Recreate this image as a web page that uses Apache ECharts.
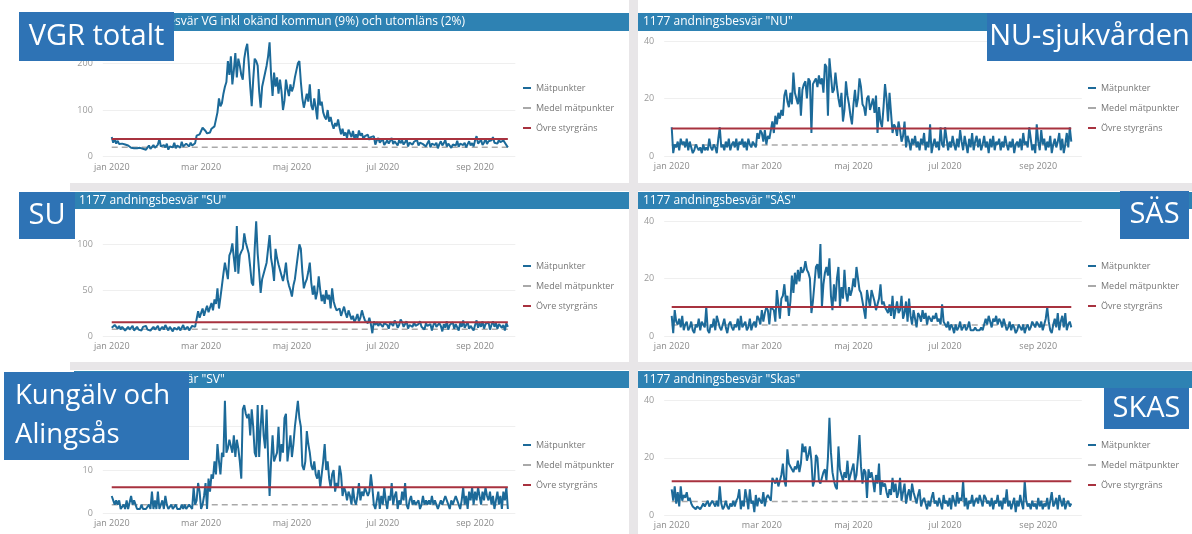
<!DOCTYPE html>
<html><head><meta charset="utf-8">
<script src="https://cdn.jsdelivr.net/npm/echarts@6/dist/echarts.min.js"></script>
<style>html,body{margin:0;padding:0;background:#fff}#c{width:1192px;height:534px}</style>
</head><body><div id="c"></div><script>
// ---------- data ----------
const startDate = '2020-01-01';
const tickDates = ['2020-01-01', '2020-03-01', '2020-05-01', '2020-07-01', '2020-09-01'];
const tickLabels = ['jan 2020', 'mar 2020', 'maj 2020', 'jul 2020', 'sep 2020'];
const seriesNames = ['Mätpunkter', 'Medel mätpunkter', 'Övre styrgräns'];
const panelTitles = [
  '1177 andningsbesvär VG inkl okänd kommun (9%) och utomläns (2%)',
  '1177 andningsbesvär "NU"',
  '1177 andningsbesvär "SU"',
  '1177 andningsbesvär "SÄS"',
  '1177 andningsbesvär "SV"',
  '1177 andningsbesvär "Skas"'
];
const panelLabels = ['VGR totalt', 'NU-sjukvården', 'SU', 'SÄS', 'Kungälv och\nAlingsås', 'SKAS'];

// daily values 1 Jan – 23 Sep 2020 (one row per month)
const vgr = [
  42,30,38,28,34,27,25,28,24,26,22,24,20,19,22,18,20,18,22,19,20,17,21,15,18,24,17,21,25,19,23,
  26,38,22,18,25,20,28,15,22,26,20,30,18,24,27,19,32,22,20,28,25,22,30,24,26,29,45,46,48,
  52,62,58,55,50,54,52,60,58,65,80,95,125,108,115,135,150,160,205,175,215,155,185,222,170,210,195,175,165,210,230,
  242,200,150,108,165,210,205,195,140,105,150,165,180,195,215,245,175,130,180,150,170,135,165,140,100,120,165,145,130,155,
  140,150,170,185,200,205,160,125,105,120,135,118,155,110,100,125,105,80,145,110,118,95,85,80,100,75,85,70,60,72,65,
  80,62,48,60,45,52,40,58,50,42,55,38,48,40,56,45,50,38,44,40,47,36,42,38,44,26,35,40,30,28,
  38,25,30,35,28,32,40,27,33,30,24,36,29,35,26,31,38,22,30,34,26,32,28,36,24,30,33,27,31,22,29,
  35,20,28,32,25,30,18,27,33,24,29,36,22,28,31,19,26,30,24,34,21,28,32,25,30,20,27,33,24,29,22,
  35,44,28,32,36,25,30,38,27,33,29,35,42,30,34,28,36,31,27,35,30,26,20
];
const nu = [
  10,1,4,3,5,2,6,4,5,3,6,2,5,3,1,2,4,3,2,3,1,4,2,3,2,6,3,2,4,3,1,
  6,10,3,4,2,5,3,6,2,4,5,3,6,2,5,4,6,3,5,2,6,4,3,5,4,3,8,6,9,
  8,5,9,4,7,6,9,12,8,14,11,15,13,16,14,21,23,19,17,22,18,29,22,20,18,24,14,23,25,26,20,
  27,26,8,25,26,27,24,28,25,27,22,32,31,14,34,28,22,23,29,24,20,17,22,12,16,26,21,18,14,11,
  18,23,17,20,27,24,18,17,14,20,21,16,18,20,15,21,8,17,12,10,17,25,20,12,22,15,8,11,10,7,12,
  9,5,7,12,3,7,5,2,6,4,7,3,5,2,6,4,8,2,5,3,11,1,4,6,3,5,2,10,4,3,
  10,6,2,5,3,7,4,2,6,3,9,5,2,7,4,1,6,3,8,2,5,7,3,6,2,4,7,3,5,1,6,
  3,7,2,5,4,6,2,5,3,7,4,2,5,3,6,1,4,5,3,6,2,8,4,5,3,10,6,2,4,1,11,
  5,2,9,4,6,2,5,3,7,1,4,6,3,5,8,2,6,1,4,8,3,10,5
];
const su = [
  9,11,12,10,8,11,7,10,9,6,8,10,7,9,11,6,8,10,7,9,6,10,8,11,7,9,6,8,10,7,9,
  11,6,8,10,7,12,9,6,10,8,5,9,11,7,10,6,8,12,7,9,10,6,8,11,9,10,12,27,20,
  25,30,22,28,33,26,27,36,28,40,35,52,30,42,55,68,80,78,62,88,92,101,85,70,120,68,88,92,95,112,102,
  100,90,75,58,55,95,125,90,70,47,62,68,70,80,95,110,85,75,60,95,85,78,72,70,60,68,80,62,55,50,
  43,55,62,75,88,100,95,70,52,58,62,70,80,58,45,55,40,48,65,50,38,45,35,50,40,45,30,52,38,32,28,
  28,30,22,27,32,25,20,28,23,18,22,15,19,24,16,20,28,22,17,19,14,20,13,3,16,12,15,11,14,16,
  10,14,16,12,8,15,13,11,17,14,9,12,18,15,10,13,16,8,12,14,10,15,11,9,13,16,10,12,7,14,11,
  9,13,6,12,15,10,8,14,11,5,13,9,16,7,12,10,15,8,13,11,6,14,10,17,9,12,15,8,11,13,6,
  12,17,9,14,10,16,8,13,11,15,7,12,16,10,14,8,13,15,9,12,6,14,10
];
const sas = [
  7,1,9,5,4,6,3,7,2,4,5,2,3,5,2,1,4,3,6,2,5,4,3,10,2,1,4,3,6,2,7,
  5,3,2,4,6,3,1,4,5,3,2,4,3,6,2,7,3,4,5,2,3,6,2,4,5,3,7,6,4,
  9,5,8,10,9,4,10,10,9,5,16,11,6,13,14,18,12,14,7,12,21,15,22,18,23,19,24,22,23,26,23,
  22,20,8,12,18,24,25,20,32,10,18,22,24,21,27,14,9,18,12,20,24,10,17,13,23,15,12,17,14,16,
  20,17,24,20,16,15,12,9,6,16,13,10,16,14,12,9,11,13,18,11,12,10,9,8,11,7,14,6,9,12,8,
  9,14,6,8,12,5,13,7,4,9,6,3,8,7,5,9,6,8,4,7,6,5,7,6,8,5,6,4,11,5,
  4,3,5,2,4,3,1,4,2,3,5,2,3,4,2,3,5,2,2,2,3,2,2,2,3,2,2,6,4,7,5,
  3,6,5,7,4,6,5,3,6,4,2,3,5,2,4,3,1,2,4,3,2,4,1,3,4,2,3,5,4,3,5,
  4,3,5,2,4,6,10,5,2,1,4,6,3,8,2,5,7,3,8,2,4,5,3
];
const sv = [
  4,3,2,3,2,3,1,1,2,1,3,1,1,4,2,3,2,1,1,1,2,1,1,1,1,2,1,5,1,3,1,
  5,1,2,3,1,4,2,1,1,2,1,1,2,1,1,1,2,1,2,1,1,2,2,1,6,2,3,7,5,
  1,2,4,7,1,8,5,9,8,12,9,16,12,9,14,13,26,14,15,17,17,14,18,13,17,15,12,8,24,25,23,
  22,23,18,24,20,14,13,25,13,20,25,18,15,24,13,4,12,18,12,13,14,20,12,16,14,22,23,12,15,18,
  13,16,20,23,26,22,20,11,10,12,19,16,14,11,10,12,9,8,10,6,9,12,16,10,12,8,6,9,10,5,7,
  6,11,9,4,6,5,3,5,4,2,6,3,2,4,7,3,5,4,6,5,4,5,9,6,2,1,3,5,1,4,
  2,6,3,1,4,3,7,2,4,5,1,3,2,5,3,7,2,1,3,4,2,3,2,2,3,1,2,4,2,3,2,
  3,2,4,2,3,2,1,2,3,2,2,4,3,2,1,3,2,2,4,3,2,1,3,6,2,4,1,5,3,6,2,
  5,3,6,4,2,5,3,6,4,3,5,2,4,1,3,5,2,4,1,5,3,6,1
];
const skas = [
  9,5,10,4,8,3,10,5,7,6,8,5,6,4,3,3,2,3,3,2,3,4,3,4,5,3,4,5,4,3,5,
  3,10,4,2,3,5,3,2,4,3,5,3,5,6,9,2,5,3,9,6,2,9,4,5,1,7,3,6,5,
  4,8,3,6,7,6,5,13,12,11,13,10,12,14,18,12,10,23,18,17,16,15,17,16,19,15,18,25,22,24,19,
  21,24,19,10,12,21,20,12,11,13,15,16,12,20,34,22,15,12,10,9,24,16,14,12,15,13,19,12,14,16,
  18,12,14,20,28,17,11,16,15,6,16,13,15,12,8,14,11,18,7,12,10,11,8,6,9,7,13,8,11,6,8,
  13,5,8,11,4,7,9,5,11,8,6,4,7,9,3,5,6,4,2,5,3,6,8,4,5,3,6,4,2,7,
  4,5,3,6,2,7,5,3,8,4,6,5,12,3,6,2,5,4,7,3,5,6,4,7,5,3,7,6,4,5,3,
  6,2,5,4,7,3,5,2,6,4,9,3,5,2,4,6,1,5,3,7,4,2,12,5,3,4,2,5,3,4,2,
  6,3,5,2,4,3,6,2,5,8,3,4,6,2,7,5,3,6,2,4,5,3,4
];
const meanLevels = [20, 3.8, 7.3, 3.8, 2, 4.7];
const upperLevels = [38, 9.6, 15, 10.1, 6, 11.8];
const yMax = [250, 40, 130, 40, 28, 40];
const yStep = [100, 20, 50, 20, 10, 20];
const panelData = [vgr, nu, su, sas, sv, skas];

// ---------- layout / style ----------
const DAY = 86400000;
const dayOf = d => Math.round((Date.parse(d) - Date.parse(startDate)) / DAY);
const tickDays = tickDates.map(dayOf);
const colGeom = [
  { left: 102.8, width: 412.5, xmin: -6, xmax: 271, legendLeft: 523, barX: 74, barW: 555, textX: 79 },
  { left: 664.2, width: 417.6, xmin: -5, xmax: 273, legendLeft: 1088, barX: 638, barW: 554, textX: 643 }
];
const layout = [
  { col: 0, row: 0, top: 40, height: 116.7 },
  { col: 1, row: 0, top: 41, height: 115 },
  { col: 0, row: 1, top: 216.8, height: 119.2 },
  { col: 1, row: 1, top: 221, height: 115 },
  { col: 0, row: 2, top: 392.1, height: 121.2 },
  { col: 1, row: 2, top: 400.7, height: 114.3 }
];
const rowGeom = [
  { barY: 13, barH: 18, legendTop: 82 },
  { barY: 192, barH: 17, legendTop: 260 },
  { barY: 371, barH: 17, legendTop: 439 }
];
const boxes = [
  { x: 19, y: 12, w: 155, h: 49, align: 'center', size: 29 },
  { x: 987, y: 13, w: 205, h: 48, align: 'center', size: 29 },
  { x: 19, y: 192, w: 56, h: 47, align: 'center', size: 29 },
  { x: 1120, y: 191, w: 69, h: 48, align: 'center', size: 29 },
  { x: 4, y: 372, w: 185, h: 88, align: 'left', size: 27.5 },
  { x: 1104, y: 388, w: 85, h: 41, align: 'center', size: 29 }
];
const C_LINE = '#1c6a99', C_MEAN = '#a9a9a9', C_UPPER = '#a8323f';
const C_BAR = '#2e82b3', C_BOX = '#2e73b5', C_SEP = '#e8e6e8';
const FONT = '"Open Sans", "Noto Sans", sans-serif';

const grids = [], xAxes = [], yAxes = [], series = [], legends = [], graphics = [];

// separators
graphics.push({ type: 'rect', z: 0, shape: { x: 629, y: 0, width: 9, height: 534 }, style: { fill: C_SEP } });
graphics.push({ type: 'rect', z: 0, shape: { x: 70, y: 183, width: 1122, height: 8 }, style: { fill: C_SEP } });
graphics.push({ type: 'rect', z: 0, shape: { x: 70, y: 362, width: 1122, height: 8 }, style: { fill: C_SEP } });

layout.forEach((L, i) => {
  const cg = colGeom[L.col], rg = rowGeom[L.row];
  const vals = panelData[i];
  const last = vals.length - 1;
  grids.push({ left: cg.left, width: cg.width, top: L.top, height: L.height, containLabel: false, outerBoundsMode: 'none' });
  xAxes.push({
    gridIndex: i, type: 'value', min: cg.xmin, max: cg.xmax,
    axisLine: { show: false }, axisTick: { show: false }, splitLine: { show: false },
    axisLabel: {
      customValues: tickDays, formatter: v => tickLabels[tickDays.indexOf(v)] || '',
      fontSize: 9, color: '#8a8a8a', margin: 6, fontFamily: FONT
    }
  });
  const aligned = yMax[i] % yStep[i] === 0;
  yAxes.push({
    gridIndex: i, type: 'value', min: 0, max: yMax[i], interval: yStep[i],
    axisLine: { show: false }, axisTick: { show: false },
    splitLine: { lineStyle: { color: '#efefef', width: 1 }, showMaxLine: aligned },
    axisLabel: { showMaxLabel: aligned, fontSize: 9, color: '#9a9a9a', margin: 10, fontFamily: FONT }
  });
  series.push({
    name: seriesNames[0], type: 'line', xAxisIndex: i, yAxisIndex: i, symbol: 'none', animation: false,
    data: vals.map((v, d) => [d, v]),
    itemStyle: { color: C_LINE }, lineStyle: { color: C_LINE, width: 2 }, z: 3
  });
  series.push({
    name: seriesNames[1], type: 'line', xAxisIndex: i, yAxisIndex: i, symbol: 'none', animation: false,
    data: [[0, meanLevels[i]], [last, meanLevels[i]]],
    itemStyle: { color: C_MEAN }, lineStyle: { color: C_MEAN, width: 1.5, type: [6, 4] }, z: 2
  });
  series.push({
    name: seriesNames[2], type: 'line', xAxisIndex: i, yAxisIndex: i, symbol: 'none', animation: false,
    data: [[0, upperLevels[i]], [last, upperLevels[i]]],
    itemStyle: { color: C_UPPER }, lineStyle: { color: C_UPPER, width: 2 }, z: 4
  });
  legends.push({
    data: seriesNames, orient: 'vertical', left: cg.legendLeft, top: rg.legendTop,
    icon: 'rect', itemWidth: 8, itemHeight: 2, itemGap: 8, padding: 0, selectedMode: false,
    textStyle: { fontSize: 9, color: '#777777', fontFamily: FONT, lineHeight: 12 }
  });
  // title bar
  graphics.push({ type: 'rect', z: 1, shape: { x: cg.barX, y: rg.barY, width: cg.barW, height: rg.barH }, style: { fill: C_BAR } });
  graphics.push({
    type: 'text', z: 2, x: cg.textX, y: rg.barY + rg.barH / 2,
    style: { text: panelTitles[i], fill: '#ffffff', font: '12px ' + FONT, align: 'left', verticalAlign: 'middle', textAlign: 'left', textVerticalAlign: 'middle' }
  });
  // overlay label box
  const b = boxes[i];
  graphics.push({ type: 'rect', z: 100, shape: { x: b.x, y: b.y, width: b.w, height: b.h }, style: { fill: C_BOX } });
  const tx = b.align === 'left' ? b.x + 11 : b.x + b.w / 2;
  graphics.push({
    type: 'text', z: 101, x: tx, y: b.y + b.h / 2,
    style: {
      text: panelLabels[i], fill: '#ffffff', font: b.size + 'px ' + FONT, lineHeight: 39,
      align: b.align, verticalAlign: 'middle', textAlign: b.align, textVerticalAlign: 'middle'
    }
  });
});

const chart = echarts.init(document.getElementById('c'), null, { renderer: 'canvas' });
chart.setOption({
  animation: false,
  backgroundColor: '#ffffff',
  grid: grids, xAxis: xAxes, yAxis: yAxes, series: series, legend: legends,
  graphic: { elements: graphics }
});
</script></body></html>
